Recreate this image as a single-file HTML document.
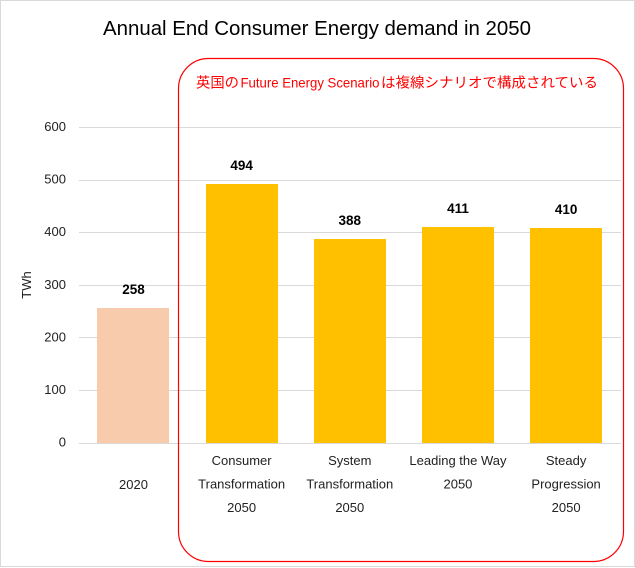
<!DOCTYPE html>
<html lang="en">
<head>
<meta charset="utf-8">
<title>Annual End Consumer Energy demand in 2050</title>
<style>
html,body{margin:0;padding:0;background:#fff;}
body{width:635px;height:568px;overflow:hidden;}
svg{display:block;font-family:"Liberation Sans","Noto Sans CJK JP",sans-serif;}
</style>
</head>
<body>
<svg id="chart" width="635" height="568" viewBox="0 0 635 568" xmlns="http://www.w3.org/2000/svg">
  <rect x="0.5" y="0.5" width="634" height="566" fill="#fff" stroke="#d9d9d9" stroke-width="1"/>
  <text x="103" y="35" font-size="20" fill="#000" textLength="428" lengthAdjust="spacingAndGlyphs">Annual End Consumer Energy demand in 2050</text>
  <g id="grid"></g>
  <g id="yticks"></g>
  <text transform="translate(31,285) rotate(-90)" text-anchor="middle" font-size="13" fill="#222">TWh</text>
  <g id="bars"></g>
  <g id="values"></g>
  <g id="xlabels"></g>
  <rect x="178.5" y="58.5" width="445" height="503" rx="30" ry="30" fill="none" stroke="#ff0000" stroke-width="1.2"/>
  <g fill="#ff0000" font-size="14">
    <text x="196" y="87.5" textLength="43" lengthAdjust="spacingAndGlyphs">英国の</text>
    <text x="240.5" y="87.5" textLength="139" lengthAdjust="spacingAndGlyphs">Future Energy Scenario</text>
    <text x="381" y="87.5" textLength="217" lengthAdjust="spacingAndGlyphs">は複線シナリオで構成されている</text>
  </g>
</svg>
<script>
const categories = [
  ["2020"],
  ["Consumer", "Transformation", "2050"],
  ["System", "Transformation", "2050"],
  ["Leading the Way", "2050"],
  ["Steady", "Progression", "2050"]
];
const demandValues = [258, 494, 388, 411, 410];
const yTickLabels = [0, 100, 200, 300, 400, 500, 600];

const NS = "http://www.w3.org/2000/svg";
const gridLeft = 79, gridRight = 621;
const bandLeft = 79.4, bandRight = 620.2;
const plotBottom = 443, plotTop = 127.5, yMax = 600, barWidth = 72;
const singleLineY = 489;
const firstLineY = 465, lineStep = 23.5;

function yScale(v) { return plotBottom - (v / yMax) * (plotBottom - plotTop); }
function xCenter(i) { return bandLeft + (bandRight - bandLeft) / categories.length * (i + 0.5); }

const gridG = document.getElementById("grid");
const tickG = document.getElementById("yticks");
yTickLabels.forEach(function (t) {
  const y = Math.floor(yScale(t)) + 0.5;
  const line = document.createElementNS(NS, "line");
  
  
  line.setAttribute("x1", gridLeft);
  line.setAttribute("x2", gridRight);
  line.setAttribute("y1", y);
  line.setAttribute("y2", y);
  line.setAttribute("stroke", "#d9d9d9");
  gridG.appendChild(line);

  const label = document.createElementNS(NS, "text");
  
  
  label.setAttribute("x", 66);
  label.setAttribute("y", yScale(t) + 3.5);
  label.setAttribute("text-anchor", "end");
  label.setAttribute("font-size", "13");
  label.setAttribute("fill", "#222");
  label.textContent = t;
  tickG.appendChild(label);
});

const barG = document.getElementById("bars");
const valG = document.getElementById("values");
const labG = document.getElementById("xlabels");
demandValues.forEach(function (v, i) {
  const cx = xCenter(i);
  const top = Math.ceil(yScale(v));
  const bar = document.createElementNS(NS, "rect");
  
  
  bar.setAttribute("x", Math.round(cx - barWidth / 2));
  bar.setAttribute("y", top);
  bar.setAttribute("width", barWidth);
  bar.setAttribute("height", plotBottom - top);
  bar.setAttribute("fill", i === 0 ? "#f8cbad" : "#ffc000");
  barG.appendChild(bar);

  const val = document.createElementNS(NS, "text");
  
  
  val.setAttribute("x", cx);
  val.setAttribute("y", top - 14);
  val.setAttribute("text-anchor", "middle");
  val.setAttribute("font-size", "13.5");
  val.setAttribute("font-weight", "bold");
  val.setAttribute("fill", "#000");
  val.textContent = v;
  valG.appendChild(val);

  categories[i].forEach(function (txt, j) {
    const lab = document.createElementNS(NS, "text");
    
    
    lab.setAttribute("x", cx);
    lab.setAttribute("y", categories[i].length === 1 ? singleLineY : firstLineY + j * lineStep);
    lab.setAttribute("text-anchor", "middle");
    lab.setAttribute("font-size", "13");
    lab.setAttribute("fill", "#222");
    lab.textContent = txt;
    labG.appendChild(lab);
  });
});
</script>
</body>
</html>
